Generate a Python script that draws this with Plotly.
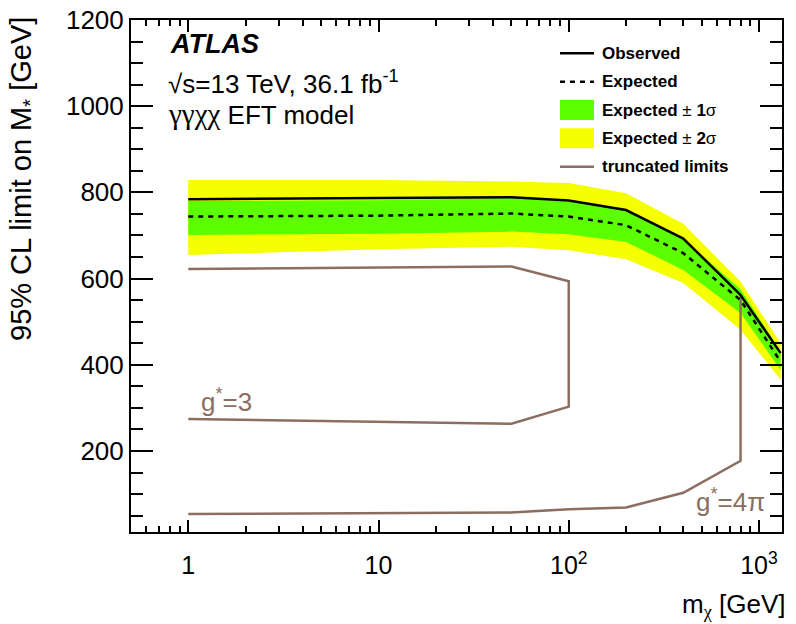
import math
import plotly.graph_objects as go

# ---------------- data ----------------
mchi = [1, 10, 50, 100, 200, 400, 800, 1300]
observed = [784, 786, 789, 781, 759, 693, 562, 427]
expected = [744, 746, 751, 744, 724, 659, 550, 407]
exp_p1 = [780, 782, 787, 779, 758, 692, 575, 430]
exp_m1 = [701, 704, 709, 703, 685, 620, 520, 388]
exp_p2 = [829, 829, 825, 822, 798, 727, 593, 450]
exp_m2 = [655, 668, 674, 666, 645, 590, 481, 365]

g3_x = [1, 50, 100, 100, 50, 1]
g3_y = [622, 628, 594, 303, 263, 274]
g4_x = [1, 50, 100, 200, 400, 800, 800]
g4_y = [54, 57, 65, 69, 103, 177, 558]

x_tickvals = [1, 10, 100, 1000]
x_ticktext = ["1", "10", "10<sup>2</sup>", "10<sup>3</sup>"]
y_tickvals = [200, 400, 600, 800, 1000, 1200]

legend_labels = ["<b>Observed</b>", "<b>Expected</b>", "<b>Expected</b> ± <b>1</b>σ",
                 "<b>Expected</b> ± <b>2</b>σ", "<b>truncated limits</b>"]

# ---------------- style ----------------
FONT = "Liberation Sans, Arial, Helvetica, sans-serif"
GREEN = "#5cff00"
YELLOW = "#f5ff00"
BROWN = "#8c6e60"

# page body has an 8px margin: figure is drawn at (8, 8) in the window
OFF = 8
W, H = 796 - OFF, 624 - OFF
PLOT_L, PLOT_T, PW, PH = 131, 20, 651, 512
L, T = PLOT_L - OFF, PLOT_T - OFF
R, B = W - L - PW, H - T - PH


def px(xpix):
    return (xpix - PLOT_L) / PW


def py(ypix):
    return (PLOT_T + PH - ypix) / PH


fig = go.Figure()

fig.add_trace(go.Scatter(x=mchi + mchi[::-1], y=exp_p2 + exp_m2[::-1], fill="toself",
                         fillcolor=YELLOW, line=dict(width=0), mode="lines",
                         hoverinfo="skip", showlegend=False))
fig.add_trace(go.Scatter(x=mchi + mchi[::-1], y=exp_p1 + exp_m1[::-1], fill="toself",
                         fillcolor=GREEN, line=dict(width=0), mode="lines",
                         hoverinfo="skip", showlegend=False))
fig.add_trace(go.Scatter(x=g3_x, y=g3_y, mode="lines",
                         line=dict(color=BROWN, width=2.5), showlegend=False))
fig.add_trace(go.Scatter(x=g4_x, y=g4_y, mode="lines",
                         line=dict(color=BROWN, width=2.5), showlegend=False))
fig.add_trace(go.Scatter(x=mchi, y=expected, mode="lines",
                         line=dict(color="black", width=2.5, dash="5px,5px"), showlegend=False))
fig.add_trace(go.Scatter(x=mchi, y=observed, mode="lines",
                         line=dict(color="black", width=2.5), showlegend=False))

x_minor = [v * 10 ** d for d in range(-1, 4) for v in range(2, 10)]
x_minor = [v for v in x_minor if 0.5 <= v <= 1350 and v not in x_tickvals]
y_minor = [v for v in range(50, 1200, 50) if v not in y_tickvals]

fig.update_xaxes(type="log", range=[math.log10(0.5), 3.121],
                 tickvals=x_tickvals, ticktext=x_ticktext,
                 ticks="inside", ticklen=12, tickwidth=1.5, tickcolor="black",
                 minor=dict(tickvals=x_minor, ticks="inside", ticklen=6, tickwidth=1.5,
                            tickcolor="black", showgrid=False),
                 showline=True, linecolor="black", linewidth=2, mirror="ticks",
                 showgrid=False, zeroline=False, ticklabeloverflow="allow",
                 tickfont=dict(family=FONT, size=25, color="black"),
                 ticklabelstandoff=10)
fig.update_yaxes(range=[12, 1200], tickvals=y_tickvals,
                 ticks="inside", ticklen=22, tickwidth=1.5, tickcolor="black",
                 minor=dict(tickvals=y_minor, ticks="inside", ticklen=12, tickwidth=1.5,
                            tickcolor="black", showgrid=False),
                 showline=True, linecolor="black", linewidth=2, mirror="ticks",
                 showgrid=False, zeroline=False, ticklabeloverflow="allow",
                 tickfont=dict(family=FONT, size=26, color="black"))

ann = []
# axis titles
ann.append(dict(text="95% CL limit on M<sub>*</sub> [GeV]", x=px(23), y=py(15),
                xref="paper", yref="paper", xanchor="center", yanchor="top",
                textangle=-90, showarrow=False, font=dict(family=FONT, size=29, color="black")))
ann.append(dict(text='m<sub><span style="font-family:Liberation Serif, serif">χ</span></sub> [GeV]',
                x=px(787), y=py(605),
                xref="paper", yref="paper", xanchor="right", yanchor="middle",
                showarrow=False, font=dict(family=FONT, size=26, color="black")))
# ATLAS label
ann.append(dict(text="<b><i>ATLAS</i></b>", x=px(168), y=py(44), xref="paper", yref="paper",
                xanchor="left", yanchor="middle", showarrow=False,
                font=dict(family=FONT, size=27, color="black")))
ann.append(dict(text="√s=13 TeV, 36.1 fb<sup>-1</sup>", x=px(166), y=py(82), xref="paper",
                yref="paper", xanchor="left", yanchor="middle", showarrow=False,
                font=dict(family=FONT, size=26, color="black")))
ann.append(dict(text='<span style="font-family:Liberation Serif, serif;font-size:29px">γγχχ</span> EFT model',
                x=px(166), y=py(114), xref="paper",
                yref="paper", xanchor="left", yanchor="middle", showarrow=False,
                font=dict(family=FONT, size=26, color="black")))
# curve labels
ann.append(dict(text="g<sup>*</sup>=3", x=px(226), y=py(400), xref="paper", yref="paper",
                xanchor="center", yanchor="middle", showarrow=False,
                font=dict(family=FONT, size=26, color=BROWN)))
ann.append(dict(text="g<sup>*</sup>=4π", x=px(730), y=py(500), xref="paper", yref="paper",
                xanchor="center", yanchor="middle", showarrow=False,
                font=dict(family=FONT, size=26, color=BROWN)))

# legend
rows = [53.3, 81.7, 110, 138.3, 166.7]
shapes = []
sx0, sx1 = px(560), px(594)
shapes.append(dict(type="line", xref="paper", yref="paper", x0=sx0, x1=sx1,
                   y0=py(rows[0]), y1=py(rows[0]), line=dict(color="black", width=2.5)))
shapes.append(dict(type="line", xref="paper", yref="paper", x0=sx0, x1=sx1,
                   y0=py(rows[1]), y1=py(rows[1]), line=dict(color="black", width=2.5, dash="5px,5px")))
shapes.append(dict(type="rect", xref="paper", yref="paper", x0=sx0, x1=sx1,
                   y0=py(rows[2] + 10), y1=py(rows[2] - 10), fillcolor=GREEN, line=dict(width=0)))
shapes.append(dict(type="rect", xref="paper", yref="paper", x0=sx0, x1=sx1,
                   y0=py(rows[3] + 10), y1=py(rows[3] - 10), fillcolor=YELLOW, line=dict(width=0)))
shapes.append(dict(type="line", xref="paper", yref="paper", x0=sx0, x1=sx1,
                   y0=py(rows[4]), y1=py(rows[4]), line=dict(color=BROWN, width=2.5)))
for r, lab in zip(rows, legend_labels):
    ann.append(dict(text=lab, x=px(600), y=py(r), xref="paper", yref="paper",
                    xanchor="left", yanchor="middle", showarrow=False,
                    font=dict(family=FONT, size=17, color="black")))

fig.update_layout(width=W, height=H, margin=dict(l=L, r=R, t=T, b=B, autoexpand=False),
                  paper_bgcolor="white", plot_bgcolor="white",
                  annotations=ann, shapes=shapes, showlegend=False,
                  font=dict(family=FONT, color="black"))

fig.write_html("out.html")
